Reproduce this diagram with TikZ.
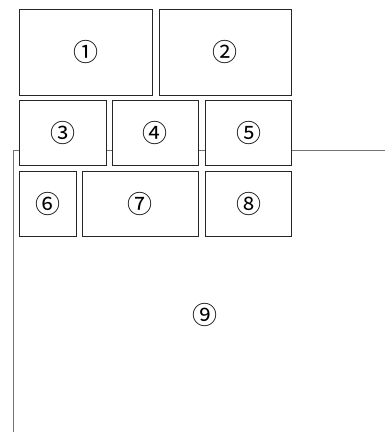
\documentclass[tikz,border=0pt]{standalone}
\usepackage{fontspec}
\newfontfamily\circfont{Noto Sans CJK JP}
\begin{document}
\begin{tikzpicture}[x=1pt,y=-1pt,
  lbl/.style={font=\circfont\fontsize{25}{25}\selectfont},
  box/.style={lbl,draw=black!85,line width=0.8pt,fill=white,inner sep=0pt},
  wire/.style={draw=black!55,line width=1pt}]
\useasboundingbox (0,0) rectangle (385,432);
\coordinate (Lb) at (13.3,432);
\coordinate (Re) at (385,150);
\draw[wire] (Lb) |- (Re);
\node[box,minimum width=133.3pt,minimum height=85.7pt] (n1) at (85.7,52.2) {①};
\node[box,minimum width=132.7pt,minimum height=85.7pt] (n2) at (225.3,52.2) {②};
\node[box,minimum width=87.3pt,minimum height=64.6pt] (n3) at (62.7,133) {③};
\node[box,minimum width=86pt,minimum height=64.6pt] (n4) at (155.3,133) {④};
\node[box,minimum width=86.4pt,minimum height=64.6pt] (n5) at (248.5,133) {⑤};
\node[box,minimum width=57.3pt,minimum height=64.6pt] (n6) at (47.7,204) {⑥};
\node[box,minimum width=116pt,minimum height=64.6pt] (n7) at (140.3,204) {⑦};
\node[box,minimum width=86.4pt,minimum height=64.6pt] (n8) at (248.5,204) {⑧};
\node[lbl,inner sep=0pt] (n9) at (205,315) {⑨};
\end{tikzpicture}
\end{document}
